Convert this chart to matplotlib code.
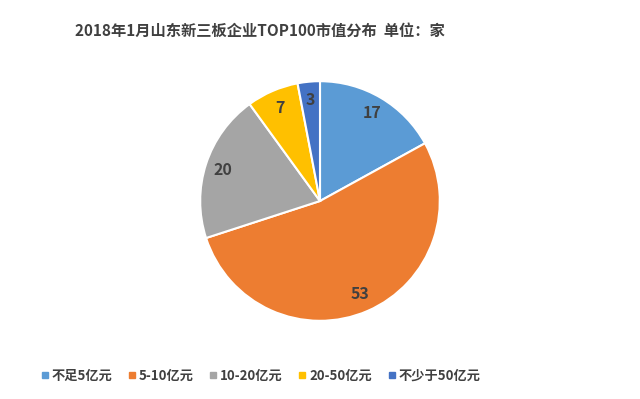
import matplotlib
matplotlib.use("Agg")
import matplotlib.pyplot as plt
from matplotlib.lines import Line2D

plt.rcParams['font.family'] = ['Noto Sans CJK SC', 'DejaVu Sans']

categories = ["不足5亿元", "5-10亿元", "10-20亿元", "20-50亿元", "不少于50亿元"]
values = [17, 53, 20, 7, 3]
colors = ["#5B9BD5", "#ED7D31", "#A5A5A5", "#FFC000", "#4472C4"]
title = "2018年1月山东新三板企业TOP100市值分布  单位：家"

fig = plt.figure(figsize=(6.4, 3.99), dpi=100)
ax = fig.add_axes([199 / 640, 77 / 399, 242 / 640, 242 / 399])

wedges, texts = ax.pie(values, colors=colors, startangle=90, counterclock=False,
                       labels=[str(v) for v in values], labeldistance=0.85,
                       wedgeprops=dict(edgecolor="white", linewidth=1.5),
                       textprops=dict(color="#404040", fontsize=11.5, fontweight="bold"))
for t in texts:
    t.set_horizontalalignment("center")
    t.set_verticalalignment("center")
ax.set_xlim(-1.01, 1.01)
ax.set_ylim(-1.01, 1.01)
ax.set_aspect("equal")

fig.text(75 / 640, 1 - 31 / 399, title, ha="left", va="center",
         fontsize=11, fontweight="bold", color="#404040")

handles = [Line2D([0], [0], marker="s", linestyle="none", markersize=4.5,
                  markerfacecolor=c, markeredgecolor=c) for c in colors]
fig.legend(handles, categories, loc="center left", bbox_to_anchor=(38 / 640, 1 - 376 / 399),
           ncol=5, frameon=False, handletextpad=0.0, columnspacing=1.0,
           handlelength=1.0, borderpad=0, borderaxespad=0,
           prop=dict(size=9.5, weight="bold"), labelcolor="#404040")

fig.savefig("out.png", dpi=100)
